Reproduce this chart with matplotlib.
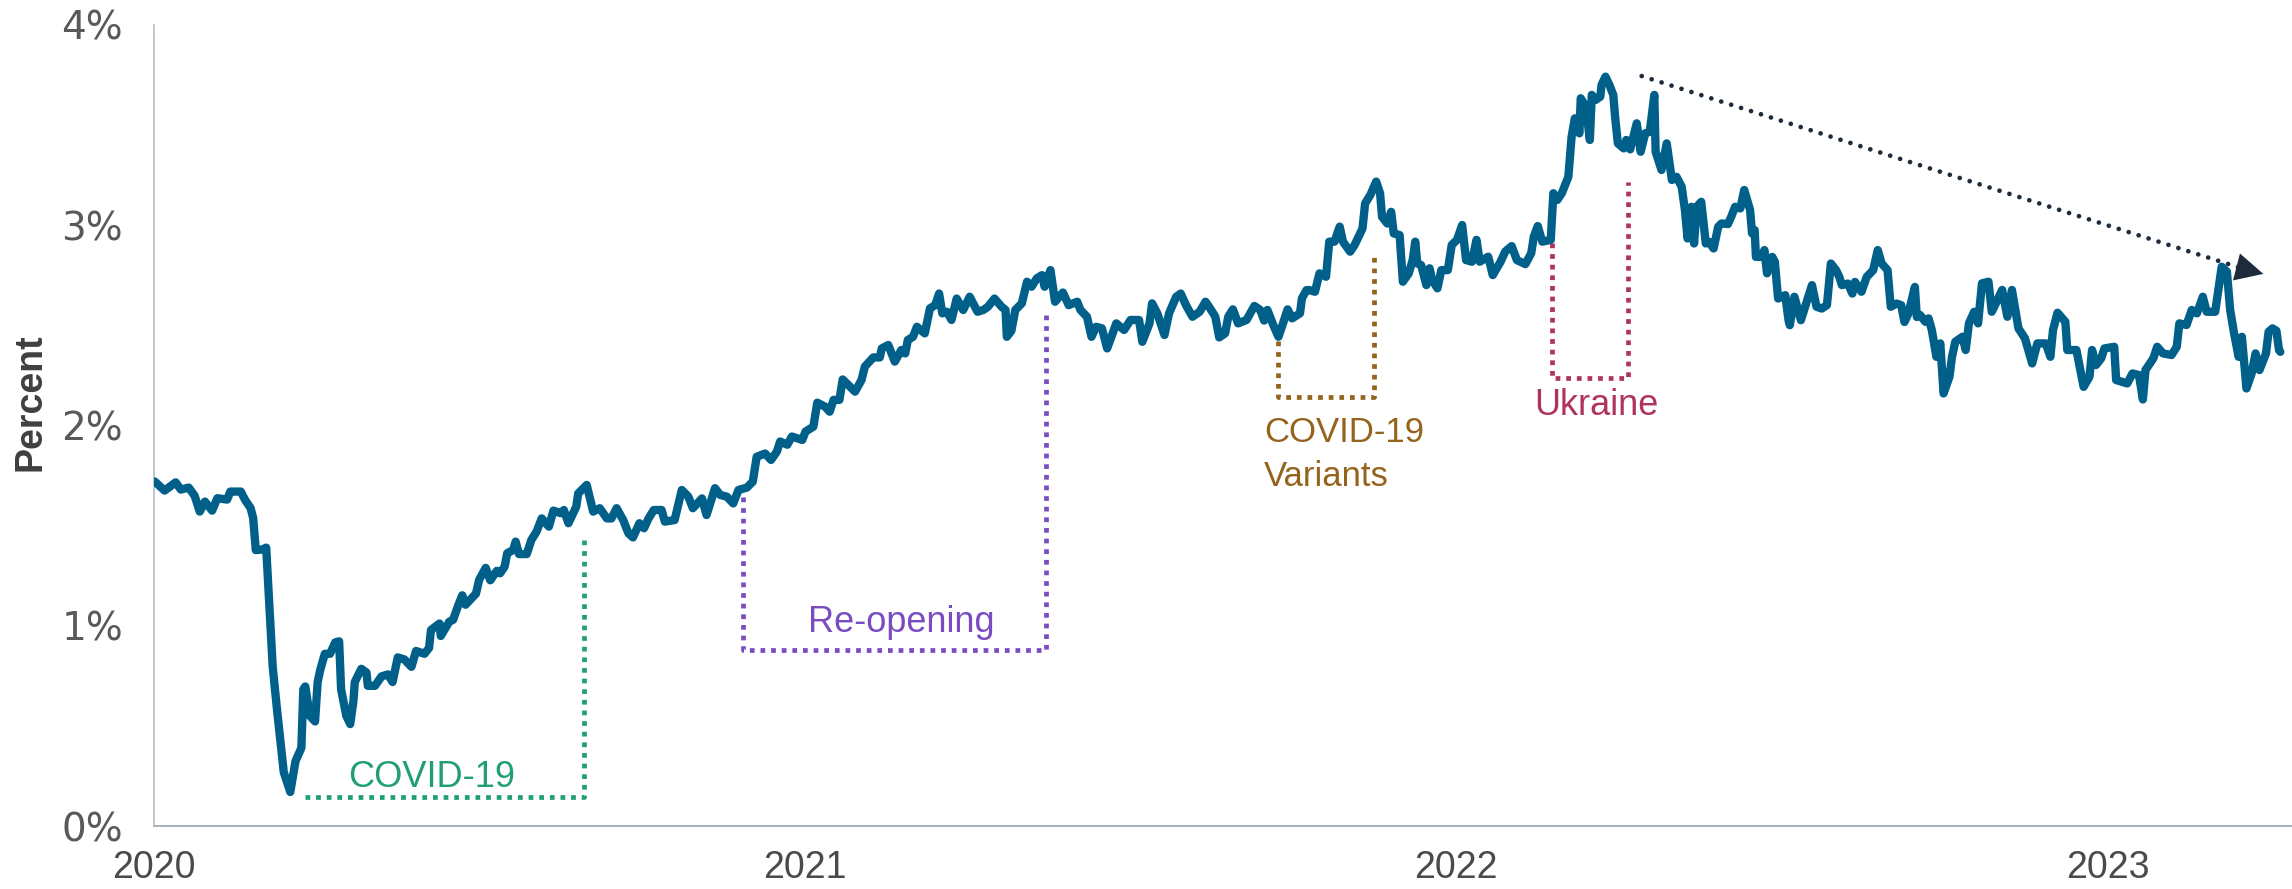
import matplotlib
matplotlib.use("Agg")
import matplotlib.pyplot as plt

plt.rcParams['font.family'] = ['Liberation Sans', 'DejaVu Sans']

# ---- data (decimal year, percent) ----
years = [
    2020.002, 2020.017, 2020.034, 2020.042, 2020.054, 2020.063, 2020.071, 2020.079, 2020.090, 2020.098,
    2020.113, 2020.118, 2020.134, 2020.141, 2020.149, 2020.153, 2020.157, 2020.167, 2020.173, 2020.178,
    2020.183, 2020.190, 2020.200, 2020.210, 2020.218, 2020.227, 2020.230, 2020.233, 2020.240, 2020.248,
    2020.252, 2020.256, 2020.263, 2020.271, 2020.279, 2020.285, 2020.288, 2020.296, 2020.302, 2020.307,
    2020.309, 2020.319, 2020.327, 2020.329, 2020.340, 2020.350, 2020.360, 2020.367, 2020.375, 2020.385,
    2020.396, 2020.403, 2020.416, 2020.423, 2020.426, 2020.439, 2020.441, 2020.454, 2020.460, 2020.467,
    2020.474, 2020.479, 2020.495, 2020.500, 2020.510, 2020.517, 2020.527,
    2020.532, 2020.539, 2020.543, 2020.552, 2020.556, 2020.561, 2020.573, 2020.580, 2020.588, 2020.596,
    2020.607, 2020.614, 2020.625, 2020.630, 2020.637, 2020.649, 2020.652, 2020.665, 2020.675, 2020.685,
    2020.696, 2020.703, 2020.711, 2020.721, 2020.729, 2020.736, 2020.746, 2020.753, 2020.760, 2020.768,
    2020.780, 2020.785, 2020.800, 2020.811, 2020.821, 2020.828, 2020.842, 2020.849, 2020.862, 2020.870,
    2020.880, 2020.890, 2020.898, 2020.911, 2020.920, 2020.926, 2020.939, 2020.948, 2020.957, 2020.962,
    2020.973, 2020.980, 2020.996, 2021.001, 2021.013, 2021.019, 2021.031, 2021.038, 2021.044, 2021.053,
    2021.058,
    2021.077, 2021.087, 2021.092, 2021.105, 2021.115, 2021.118, 2021.128, 2021.138, 2021.148, 2021.154,
    2021.158, 2021.166, 2021.172, 2021.184, 2021.192, 2021.200, 2021.206, 2021.211, 2021.218, 2021.225,
    2021.233, 2021.243, 2021.253, 2021.265, 2021.274, 2021.281, 2021.291, 2021.302, 2021.308, 2021.310,
    2021.317, 2021.323, 2021.333, 2021.341, 2021.348, 2021.356, 2021.364, 2021.368, 2021.377, 2021.384,
    2021.396, 2021.405, 2021.418, 2021.423, 2021.433, 2021.440, 2021.447, 2021.456, 2021.464, 2021.478,
    2021.490, 2021.500, 2021.513, 2021.518, 2021.529, 2021.533, 2021.541, 2021.552, 2021.559, 2021.570,
    2021.577, 2021.585, 2021.595, 2021.606, 2021.615,
    2021.622, 2021.630, 2021.636, 2021.645, 2021.650, 2021.657, 2021.665, 2021.678, 2021.690, 2021.699,
    2021.705, 2021.710, 2021.719, 2021.727, 2021.734, 2021.741, 2021.748, 2021.760, 2021.763, 2021.770,
    2021.775, 2021.783, 2021.790, 2021.800, 2021.805, 2021.813, 2021.821, 2021.826, 2021.837, 2021.844,
    2021.856, 2021.860, 2021.868, 2021.877, 2021.883, 2021.886, 2021.894, 2021.900, 2021.904, 2021.913,
    2021.918, 2021.927, 2021.933, 2021.937, 2021.940, 2021.946, 2021.954, 2021.959, 2021.963, 2021.971,
    2021.977, 2021.987, 2021.993, 2022.001, 2022.009, 2022.015, 2022.024, 2022.031, 2022.036, 2022.049,
    2022.056, 2022.068, 2022.075, 2022.085, 2022.093, 2022.106, 2022.115, 2022.119, 2022.125, 2022.132,
    2022.145, 2022.149, 2022.155, 2022.162,
    2022.172, 2022.177, 2022.182, 2022.189, 2022.191, 2022.199, 2022.205, 2022.208, 2022.214, 2022.221,
    2022.223, 2022.229, 2022.235, 2022.241, 2022.244, 2022.248, 2022.257, 2022.261, 2022.267, 2022.277,
    2022.283, 2022.290, 2022.297, 2022.304, 2022.306, 2022.315, 2022.323, 2022.331, 2022.338, 2022.346,
    2022.351, 2022.355, 2022.361, 2022.365, 2022.369, 2022.376, 2022.383, 2022.388, 2022.395, 2022.402,
    2022.407, 2022.417, 2022.422, 2022.428, 2022.436, 2022.442, 2022.451, 2022.454, 2022.458, 2022.460,
    2022.469, 2022.473, 2022.477, 2022.485, 2022.489, 2022.494, 2022.505, 2022.510, 2022.512, 2022.519,
    2022.529, 2022.538, 2022.546, 2022.553, 2022.561, 2022.569, 2022.575, 2022.583, 2022.588, 2022.592,
    2022.601, 2022.608, 2022.612, 2022.622, 2022.630, 2022.640, 2022.647, 2022.653, 2022.662, 2022.667,
    2022.676, 2022.683, 2022.688, 2022.694, 2022.704, 2022.707,
    2022.712, 2022.720, 2022.725, 2022.730, 2022.737, 2022.743, 2022.748, 2022.757, 2022.761, 2022.766,
    2022.777, 2022.782, 2022.787, 2022.795, 2022.801, 2022.807, 2022.817, 2022.822, 2022.832, 2022.838,
    2022.846, 2022.853, 2022.863, 2022.873, 2022.884, 2022.892, 2022.905, 2022.912, 2022.916, 2022.923,
    2022.935, 2022.938, 2022.952, 2022.963, 2022.972, 2022.976, 2022.982, 2022.990, 2022.995, 2023.010,
    2023.013, 2023.022, 2023.030, 2023.038, 2023.048, 2023.054, 2023.058, 2023.070, 2023.076, 2023.085,
    2023.098, 2023.106, 2023.110, 2023.121, 2023.129, 2023.137, 2023.146, 2023.152, 2023.165, 2023.175,
    2023.183, 2023.188, 2023.194, 2023.201, 2023.206, 2023.213, 2023.221, 2023.227, 2023.233, 2023.243,
    2023.247, 2023.253, 2023.259, 2023.263, 2023.265,
]
values = [
    1.72, 1.675, 1.716, 1.68, 1.69, 1.65, 1.57, 1.62, 1.575, 1.637,
    1.63, 1.67, 1.67, 1.626, 1.588, 1.538, 1.378, 1.381, 1.39, 1.095,
    0.795, 0.569, 0.268, 0.17, 0.324, 0.39, 0.682, 0.697, 0.55, 0.522,
    0.719, 0.78, 0.86, 0.86, 0.917, 0.922, 0.682, 0.55, 0.509, 0.626,
    0.719, 0.785, 0.766, 0.70, 0.70, 0.747, 0.757, 0.719, 0.842, 0.832,
    0.795, 0.874, 0.86, 0.889, 0.979, 1.011, 0.949, 1.02, 1.03, 1.095,
    1.152, 1.105, 1.16, 1.23, 1.289, 1.227, 1.274,
    1.262, 1.295, 1.362, 1.378, 1.42, 1.358, 1.358, 1.428, 1.47, 1.536,
    1.495, 1.575, 1.562, 1.578, 1.512, 1.595, 1.661, 1.703, 1.57, 1.587,
    1.536, 1.536, 1.587, 1.528, 1.462, 1.441, 1.512, 1.487, 1.536, 1.578,
    1.578, 1.52, 1.528, 1.678, 1.645, 1.587, 1.636, 1.553, 1.687, 1.653,
    1.645, 1.611, 1.678, 1.69, 1.72, 1.844, 1.86, 1.828, 1.87, 1.92,
    1.904, 1.945, 1.928, 1.97, 1.994, 2.114, 2.094, 2.069, 2.128, 2.128,
    2.23,
    2.169, 2.228, 2.294, 2.34, 2.34, 2.385, 2.402, 2.319, 2.377, 2.36,
    2.427, 2.443, 2.493, 2.46, 2.585, 2.601, 2.659, 2.56, 2.568, 2.527,
    2.634, 2.577, 2.643, 2.568, 2.577, 2.593, 2.634, 2.593, 2.577, 2.443,
    2.473, 2.577, 2.61, 2.718, 2.693, 2.735, 2.751, 2.693, 2.776, 2.618,
    2.664, 2.601, 2.618, 2.577, 2.543, 2.443, 2.493, 2.485, 2.385, 2.51,
    2.477, 2.527, 2.527, 2.418, 2.51, 2.61, 2.56, 2.452, 2.56, 2.643,
    2.659, 2.601, 2.543, 2.568, 2.618,
    2.585, 2.544, 2.44, 2.46, 2.544, 2.58, 2.51, 2.527, 2.597, 2.577,
    2.524, 2.577, 2.502, 2.443, 2.51, 2.58, 2.535, 2.56, 2.635, 2.676,
    2.676, 2.668, 2.76, 2.743, 2.918, 2.918, 2.993, 2.918, 2.868, 2.902,
    2.984, 3.109, 3.151, 3.218, 3.159, 3.042, 3.009, 3.067, 2.959, 2.951,
    2.718, 2.76, 2.826, 2.918, 2.81, 2.801, 2.701, 2.785, 2.726, 2.685,
    2.776, 2.776, 2.902, 2.927, 3.001, 2.826, 2.818, 2.927, 2.818, 2.843,
    2.751, 2.818, 2.868, 2.896, 2.826, 2.806, 2.86, 2.943, 2.996, 2.918,
    2.927, 3.16, 3.126, 3.16,
    3.242, 3.442, 3.534, 3.459, 3.634, 3.592, 3.426, 3.651, 3.626, 3.642,
    3.701, 3.742, 3.701, 3.651, 3.534, 3.409, 3.384, 3.426, 3.379, 3.509,
    3.367, 3.459, 3.467, 3.651, 3.367, 3.276, 3.409, 3.226, 3.242, 3.192,
    3.076, 2.934, 3.092, 2.909, 3.092, 3.117, 2.909, 2.917, 2.884, 2.992,
    3.009, 3.006, 3.042, 3.092, 3.084, 3.176, 3.076, 2.959, 2.976, 2.842,
    2.842, 2.876, 2.76, 2.842, 2.817, 2.634, 2.651, 2.526, 2.501, 2.643,
    2.526, 2.618, 2.701, 2.593, 2.584, 2.601, 2.809, 2.776, 2.742, 2.701,
    2.709, 2.659, 2.717, 2.668, 2.742, 2.776, 2.876, 2.809, 2.776, 2.593,
    2.609, 2.601, 2.517, 2.559, 2.692, 2.542,
    2.552, 2.518, 2.535, 2.477, 2.343, 2.41, 2.16, 2.243, 2.343, 2.418,
    2.443, 2.377, 2.51, 2.568, 2.51, 2.71, 2.718, 2.568, 2.635, 2.677,
    2.543, 2.677, 2.485, 2.435, 2.31, 2.41, 2.41, 2.343, 2.477, 2.563,
    2.518, 2.377, 2.377, 2.193, 2.243, 2.377, 2.302, 2.335, 2.385, 2.393,
    2.227, 2.218, 2.21, 2.26, 2.252, 2.13, 2.277, 2.335, 2.393, 2.36,
    2.352, 2.393, 2.51, 2.502, 2.577, 2.56, 2.643, 2.568, 2.568, 2.793,
    2.768, 2.577, 2.46, 2.343, 2.443, 2.185, 2.26, 2.36, 2.277, 2.36,
    2.468, 2.485, 2.473, 2.377, 2.368,
]

year_ticks = [2020, 2021, 2022, 2023]
year_labels = ['2020', '2021', '2022', '2023']
pct_ticks = [0, 1, 2, 3, 4]
pct_labels = ['0%', '1%', '2%', '3%', '4%']

# annotation brackets (decimal year, percent)
covid_x = [2020.232, 2020.661, 2020.661]
covid_y = [0.146, 0.146, 1.44]
reopen_x = [2020.905, 2020.905, 2021.370, 2021.370]
reopen_y = [1.645, 0.88, 0.88, 2.55]
variants_x = [2021.727, 2021.727, 2021.874, 2021.874]
variants_y = [2.42, 2.14, 2.14, 2.84]
ukraine_x = [2022.1465, 2022.1465, 2022.264, 2022.264]
ukraine_y = [2.91, 2.235, 2.235, 3.217]
trend_x = [2022.2846, 2023.2057]
trend_y = [3.745, 2.785]
trend_tip = (2023.239, 2.757)

LINE = '#00608A'
GREEN = '#1F9E78'
PURPLE = '#7A4CC2'
BROWN = '#95631C'
CRIMSON = '#B0325F'
ARROW = '#1E2B3B'

W, H = 2292, 889
fig = plt.figure(figsize=(W / 100, H / 100), dpi=100)
left_px, bottom_px, top_px = 153.5, 826, 25
ax = fig.add_axes([left_px / W, 1 - bottom_px / H, (W - left_px) / W, (bottom_px - top_px) / H])

ax.plot(years, values, color=LINE, lw=6.0, solid_joinstyle='round', solid_capstyle='round', zorder=3)

dots = (0, (1, 1.25))
for xs, ys, c in [(covid_x, covid_y, GREEN), (reopen_x, reopen_y, PURPLE),
                  (variants_x, variants_y, BROWN), (ukraine_x, ukraine_y, CRIMSON)]:
    ax.plot(xs, ys, color=c, lw=3.4, linestyle=dots, dash_capstyle='butt', zorder=2)

ax.plot(trend_x, trend_y, color=ARROW, lw=3.4, linestyle=(0, (0.01, 2.2)),
        dash_capstyle='round', zorder=2)
ax.annotate('', xy=trend_tip, xytext=(trend_x[1], trend_y[1]),
            arrowprops=dict(arrowstyle='-|>,head_length=1.0,head_width=0.5',
                            mutation_scale=20, color=ARROW, lw=0,
                            shrinkA=0, shrinkB=0))

ax.text(2020.4275, 0.193, 'COVID-19', color=GREEN, fontsize=26, ha='center', va='baseline')
ax.text(2021.1486, 0.970, 'Re-opening', color=PURPLE, fontsize=26, ha='center', va='baseline')
ax.text(2021.7048, 1.919, 'COVID-19', color=BROWN, fontsize=25, ha='left', va='baseline')
ax.text(2021.7048, 1.698, 'Variants', color=BROWN, fontsize=25, ha='left', va='baseline')
ax.text(2022.2149, 2.052, 'Ukraine', color=CRIMSON, fontsize=26, ha='center', va='baseline')

ax.set_xlim(2020, 2020 + (W - left_px) / 651.4)
ax.set_ylim(0, 4)
ax.set_xticks(year_ticks)
ax.set_xticklabels(year_labels, fontsize=27, color='#4A4A4A')
ax.set_yticks(pct_ticks)
ax.set_yticklabels(pct_labels, fontsize=28, color='#595959', family='DejaVu Sans')
ax.tick_params(axis='both', length=0)
ax.tick_params(axis='x', pad=17)
ax.tick_params(axis='y', pad=22)

for s in ['top', 'right']:
    ax.spines[s].set_visible(False)
ax.spines['left'].set_color('#B7BFC9')
ax.spines['left'].set_linewidth(1.2)
ax.spines['bottom'].set_color('#A9B1BC')
ax.spines['bottom'].set_linewidth(1.4)

fig.text(30.3 / W, 1 - 402 / H, 'Percent', rotation=90, ha='center', va='center',
         fontsize=27, fontweight='bold', color='#3F3F3F')

fig.savefig('out.png', dpi=100)
